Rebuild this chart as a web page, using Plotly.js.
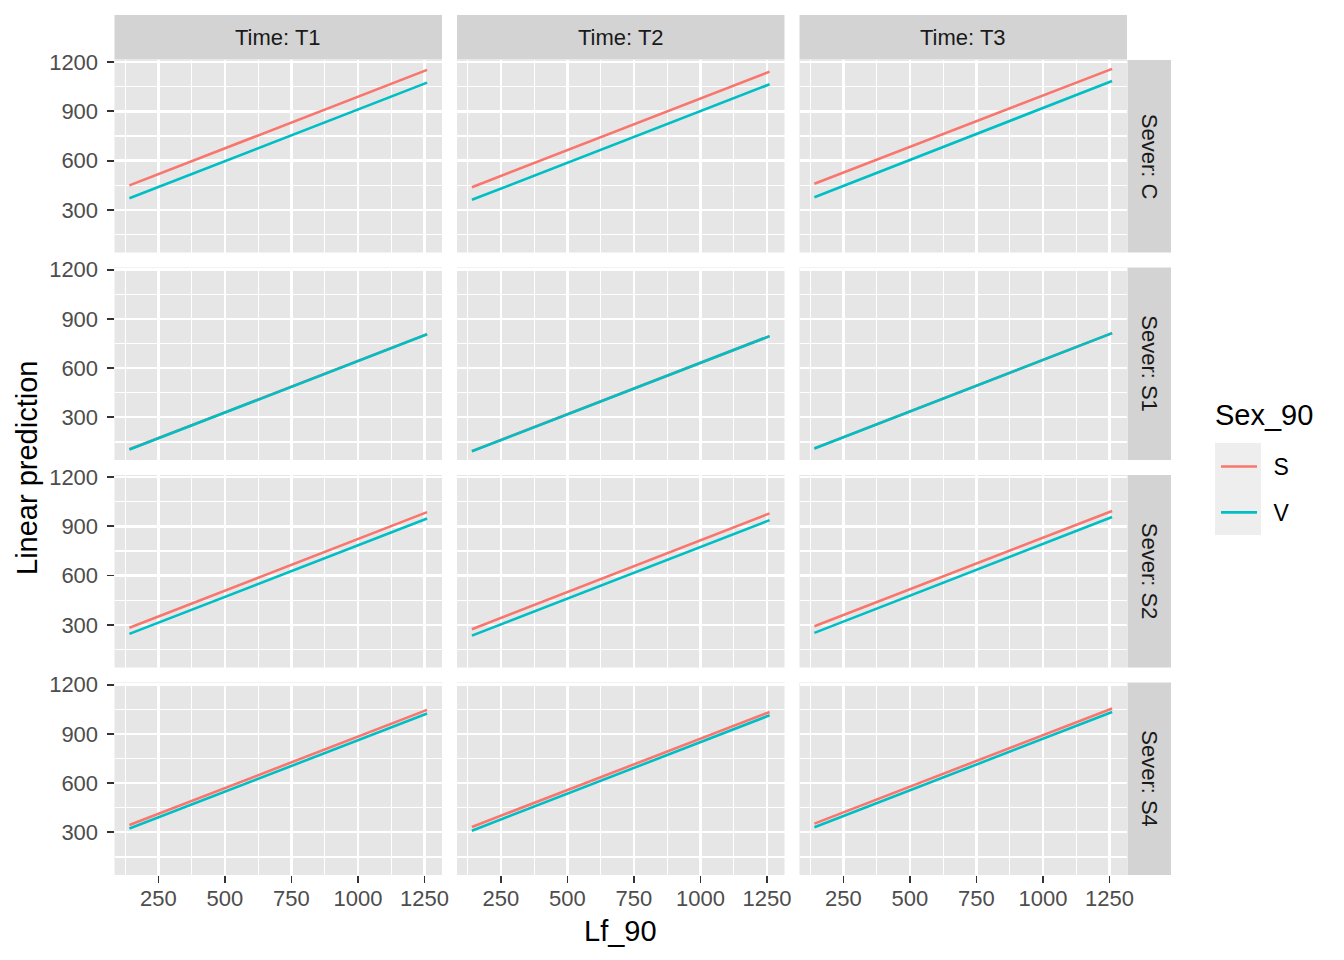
<!DOCTYPE html>
<html>
<head>
<meta charset="utf-8">
<script src="https://cdn.plot.ly/plotly-3.0.1.min.js"></script>
<style>
  html, body { margin: 0; padding: 0; background: #ffffff; }
  #chart { width: 1344px; height: 960px; }
</style>
</head>
<body>
<div id="chart"></div>
<script>
// ---- Data ----
const lf90 = [141, 1260];                 // Lf_90 range of each prediction line
const timeLevels = ['T1', 'T2', 'T3'];      // facet columns
const severLevels = ['C', 'S1', 'S2', 'S4']; // facet rows
const sexLevels = ['S', 'V'];

// Linear prediction at lf90 ends, per Time (T1, T2, T3)
const predS_C  = [[449, 1153], [438, 1142], [459, 1159]];
const predS_S1 = [[105, 807],  [94, 795],   [111, 813]];
const predS_S2 = [[282, 987],  [273, 979],  [291, 994]];
const predS_S4 = [[345, 1046], [333, 1033], [353, 1055]];

const predV_C  = [[371, 1075], [361, 1065], [377, 1085]];
const predV_S1 = [[104, 806],  [93, 795],   [110, 813]];
const predV_S2 = [[245, 948],  [234, 938],  [251, 957]];
const predV_S4 = [[323, 1024], [310, 1013], [331, 1033]];

const xTicks = [250, 500, 750, 1000, 1250];
const yTicks = [300, 600, 900, 1200];

// ---- Styling / layout ----
const predS = [predS_C, predS_S1, predS_S2, predS_S4];
const predV = [predV_C, predV_S1, predV_S2, predV_S4];
const sexColors = {S: '#F8766D', V: '#00BFC4'};
const FONT = 'Liberation Sans, Arial, Helvetica, sans-serif';
const W = 1344, H = 960;
const colPx = [[114.5, 442], [457, 784.5], [799.5, 1127]];
const rowPx = [[60, 252.5], [267.5, 460], [475, 667.5], [682.5, 875]];
const xRange = [85, 1316];
const yRange = [40, 1213];
const PANEL_BG = '#E6E6E6', STRIP_BG = '#D3D3D3', KEY_BG = '#EEEEEE';

const traces = [];
const layout = {
  width: W, height: H,
  margin: {l: 0, r: 0, t: 0, b: 0, pad: 0},
  paper_bgcolor: '#ffffff',
  plot_bgcolor: PANEL_BG,
  font: {family: FONT, color: '#4D4D4D'},
  showlegend: true,
  legend: {
    x: 1216 / W, xanchor: 'left',
    y: 1 - 445 / H, yanchor: 'top',
    bgcolor: 'rgba(0,0,0,0)',
    font: {family: FONT, size: 23, color: '#000000'},
    tracegroupgap: 13,
    itemwidth: 36
  },
  shapes: [],
  annotations: []
};

severLevels.forEach((sev, r) => {
  timeLevels.forEach((tm, c) => {
    const idx = r * 3 + c + 1;
    const xa = 'xaxis' + (idx === 1 ? '' : idx);
    const ya = 'yaxis' + (idx === 1 ? '' : idx);
    const xr = 'x' + (idx === 1 ? '' : idx);
    const yr = 'y' + (idx === 1 ? '' : idx);
    const bottom = r === severLevels.length - 1;
    const left = c === 0;
    layout[xa] = {
      domain: [colPx[c][0] / W, colPx[c][1] / W],
      anchor: yr, range: xRange, showgrid: true, gridcolor: '#ffffff', gridwidth: 2.3,
      zeroline: false, showline: false,
      tickmode: 'array', tickvals: xTicks, ticktext: xTicks.map(String),
      minor: {tickmode: 'array', tickvals: [125, 375, 625, 875, 1125], showgrid: true, gridcolor: '#ffffff', gridwidth: 1.15, ticks: ''},
      showticklabels: bottom, ticks: bottom ? 'outside' : '', ticklen: 7, tickwidth: 1.8, tickcolor: '#333333',
      ticklabelstandoff: -3,
      tickfont: {family: FONT, size: 22, color: '#4D4D4D'},
      fixedrange: true
    };
    layout[ya] = {
      domain: [1 - rowPx[r][1] / H, 1 - rowPx[r][0] / H],
      anchor: xr, range: yRange, showgrid: true, gridcolor: '#ffffff', gridwidth: 2.3,
      zeroline: false, showline: false,
      tickmode: 'array', tickvals: yTicks, ticktext: yTicks.map(String),
      minor: {tickmode: 'array', tickvals: [150, 450, 750, 1050], showgrid: true, gridcolor: '#ffffff', gridwidth: 1.15, ticks: ''},
      showticklabels: left, ticks: left ? 'outside' : '', ticklen: 7, tickwidth: 1.8, tickcolor: '#333333',
      ticklabelstandoff: 4,
      tickfont: {family: FONT, size: 22, color: '#4D4D4D'},
      fixedrange: true
    };
    [['S', predS], ['V', predV]].forEach(([sex, arr]) => {
      traces.push({
        type: 'scatter', mode: 'lines',
        x: lf90, y: arr[r][c],
        xaxis: xr, yaxis: yr,
        name: '\u2002' + sex, legendgroup: sex,
        showlegend: idx === 1,
        line: {color: sexColors[sex], width: 2.6},
        hoverinfo: 'skip'
      });
    });
  });
});

// Top strips (Time)
timeLevels.forEach((tm, c) => {
  layout.shapes.push({
    type: 'rect', xref: 'paper', yref: 'paper', layer: 'below',
    x0: colPx[c][0] / W, x1: colPx[c][1] / W, y0: 1 - 59.5 / H, y1: 1 - 15 / H,
    fillcolor: STRIP_BG, line: {width: 0}
  });
  layout.annotations.push({
    xref: 'paper', yref: 'paper', x: (colPx[c][0] + colPx[c][1]) / 2 / W, y: 1 - 38 / H,
    text: 'Time: ' + tm, showarrow: false, xanchor: 'center', yanchor: 'middle',
    font: {family: FONT, size: 22, color: '#1A1A1A'}
  });
});
// Right strips (Sever)
severLevels.forEach((sev, r) => {
  layout.shapes.push({
    type: 'rect', xref: 'paper', yref: 'paper', layer: 'below',
    x0: 1127.5 / W, x1: 1171 / W, y0: 1 - rowPx[r][1] / H, y1: 1 - rowPx[r][0] / H,
    fillcolor: STRIP_BG, line: {width: 0}
  });
  layout.annotations.push({
    xref: 'paper', yref: 'paper', x: 1149.5 / W, y: 1 - (rowPx[r][0] + rowPx[r][1]) / 2 / H,
    text: 'Sever: ' + sev, showarrow: false, textangle: 90, xanchor: 'center', yanchor: 'middle',
    font: {family: FONT, size: 22, color: '#1A1A1A'}
  });
});
// Legend key background and title
layout.shapes.push({
  type: 'rect', xref: 'paper', yref: 'paper', layer: 'below',
  x0: 1215 / W, x1: 1261 / W, y0: 1 - 535 / H, y1: 1 - 443 / H,
  fillcolor: KEY_BG, line: {width: 0}
});
layout.annotations.push({
  xref: 'paper', yref: 'paper', x: 1213 / W, y: 1 - 415 / H,
  text: 'Sex_90', showarrow: false, xanchor: 'left', yanchor: 'middle',
  font: {family: FONT, size: 29, color: '#000000'}
});
// Axis titles
layout.annotations.push({
  xref: 'paper', yref: 'paper', x: 620.5 / W, y: 1 - 931 / H,
  text: 'Lf_90', showarrow: false, xanchor: 'center', yanchor: 'middle',
  font: {family: FONT, size: 29, color: '#000000'}
});
layout.annotations.push({
  xref: 'paper', yref: 'paper', x: 27 / W, y: 1 - 468 / H,
  text: 'Linear prediction', showarrow: false, textangle: -90, xanchor: 'center', yanchor: 'middle',
  font: {family: FONT, size: 29, color: '#000000'}
});

Plotly.newPlot('chart', traces, layout, {displayModeBar: false, staticPlot: true});
</script>
</body>
</html>
